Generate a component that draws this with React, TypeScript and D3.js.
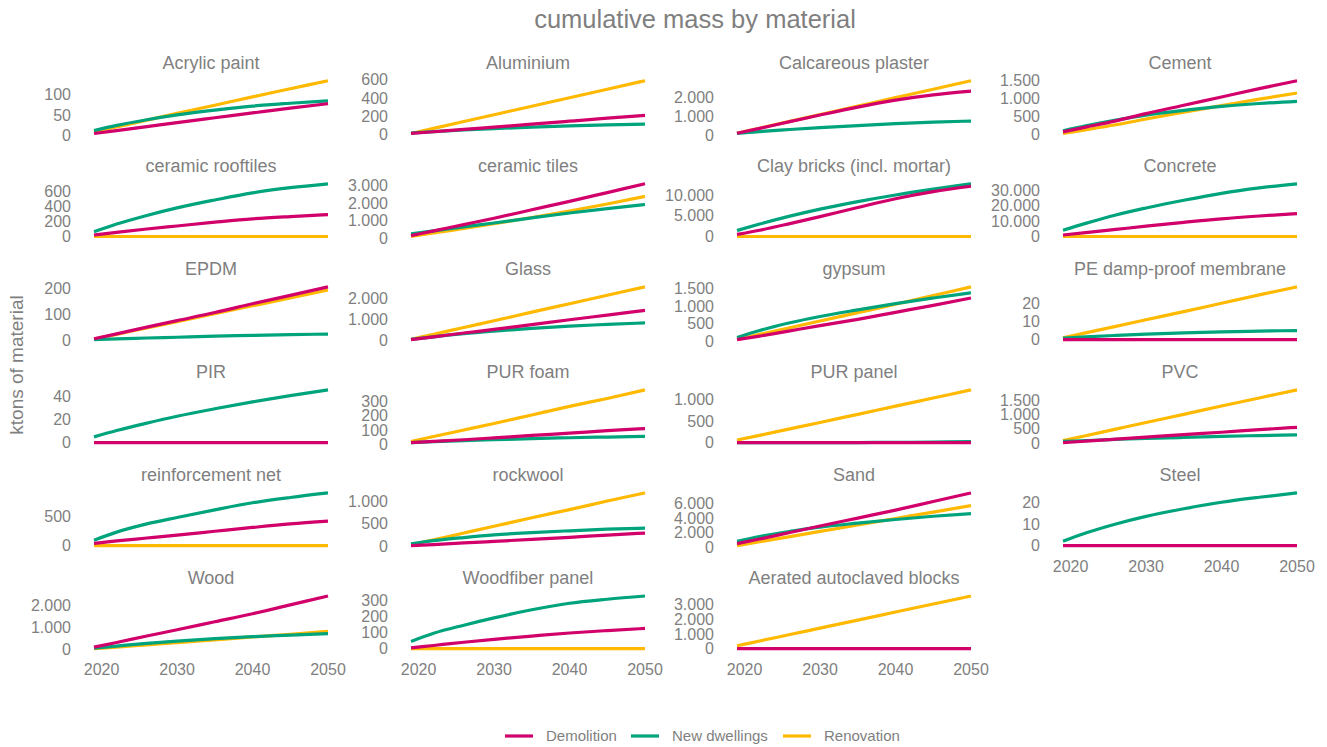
import React from "react";
import * as d3 from "d3";

// Years sampled for every series
const years = [2019, 2022, 2026, 2030, 2035, 2040, 2045, 2050];

const seriesNames = ["Demolition", "New dwellings", "Renovation"];
const seriesColors = ["#d1006b", "#00a47c", "#ffb900"];

const materials = [
  "Acrylic paint", "Aluminium", "Calcareous plaster", "Cement",
  "ceramic rooftiles", "ceramic tiles", "Clay bricks (incl. mortar)", "Concrete",
  "EPDM", "Glass", "gypsum", "PE damp-proof membrane",
  "PIR", "PUR foam", "PUR panel", "PVC",
  "reinforcement net", "rockwool", "Sand", "Steel",
  "Wood", "Woodfiber panel", "Aerated autoclaved blocks",
];

// Cumulative mass (ktons) per material, one entry per year above; null = no series
const demolition: (number[] | null)[] = [
  [4, 11, 21, 31, 43, 55, 67, 78],
  [10, 29, 55, 80, 112, 145, 178, 210],
  [90, 350, 710, 1060, 1480, 1850, 2130, 2330],
  [65, 195, 370, 570, 800, 1030, 1260, 1480],
  [20, 55, 100, 140, 190, 235, 265, 290],
  [150, 420, 780, 1140, 1620, 2100, 2600, 3100],
  [500, 1500, 3100, 4800, 7000, 9100, 10800, 12100],
  [1000, 2500, 4600, 6700, 9200, 11500, 13300, 14800],
  [5, 24, 50, 75, 106, 140, 172, 205],
  [40, 170, 350, 520, 750, 980, 1200, 1420],
  [40, 140, 290, 440, 620, 820, 1020, 1230],
  [0, 0, 0, 0, 0, 0, 0, 0],
  [0, 0, 0, 0, 0, 0, 0, 0],
  [12, 20, 32, 45, 62, 78, 95, 110],
  [0, 0, 0, 0, 0, 0, 0, 0],
  [20, 70, 140, 210, 300, 380, 470, 550],
  [38, 80, 130, 180, 245, 310, 370, 417],
  [10, 35, 70, 105, 150, 195, 245, 290],
  [460, 1100, 2000, 2900, 4000, 5100, 6300, 7480],
  [0, 0, 0, 0, 0, 0, 0, 0],
  [120, 330, 620, 900, 1260, 1620, 2020, 2420],
  [5, 20, 40, 58, 78, 97, 112, 125],
  [0, 0, 0, 0, 0, 0, 0, 0],
];

const newDwellings: (number[] | null)[] = [
  [11, 24, 38, 50, 62, 72, 79, 85],
  [15, 30, 48, 63, 80, 94, 105, 113],
  [80, 180, 290, 390, 500, 600, 680, 740],
  [95, 230, 390, 530, 660, 770, 850, 910],
  [62, 165, 280, 380, 485, 580, 648, 700],
  [250, 420, 650, 870, 1160, 1440, 1690, 1920],
  [1450, 3000, 4900, 6600, 8400, 10000, 11400, 12700],
  [4000, 8500, 14000, 18500, 23500, 28000, 31500, 34200],
  [2, 5, 8, 11, 15, 18, 21, 23],
  [50, 170, 320, 440, 570, 680, 760, 830],
  [100, 300, 520, 700, 890, 1070, 1230, 1380],
  [0.8, 1.5, 2.3, 3.0, 3.7, 4.3, 4.7, 5.0],
  [5, 10.5, 17, 23, 29.5, 35.5, 41, 46],
  [12, 18, 26, 32, 40, 46, 51, 55],
  [0, 0, 0, 0, 2, 6, 14, 25],
  [60, 90, 130, 165, 200, 235, 265, 290],
  [93, 230, 370, 480, 610, 730, 820, 897],
  [50, 120, 190, 250, 300, 340, 375, 400],
  [790, 1450, 2150, 2750, 3300, 3800, 4250, 4620],
  [2, 5.8, 10, 13.5, 17, 20, 22.3, 24.3],
  [80, 170, 290, 390, 500, 590, 660, 730],
  [45, 95, 145, 190, 240, 280, 305, 325],
  null,
];

const renovation: (number[] | null)[] = [
  [8, 20, 37, 54, 74, 95, 115, 135],
  [10, 66, 141, 216, 310, 403, 497, 590],
  [90, 360, 720, 1080, 1530, 1980, 2430, 2880],
  [20, 120, 260, 420, 610, 790, 970, 1140],
  [0, 0, 0, 0, 0, 0, 0, 0],
  [100, 300, 560, 830, 1180, 1550, 1950, 2380],
  [0, 0, 0, 0, 0, 0, 0, 0],
  [0, 0, 0, 0, 0, 0, 0, 0],
  [4, 22, 47, 71, 102, 132, 162, 193],
  [50, 290, 610, 930, 1340, 1740, 2140, 2540],
  [40, 190, 380, 570, 810, 1050, 1300, 1550],
  [1, 3.7, 7.3, 11, 15.5, 20.2, 24.8, 29.3],
  null,
  [20, 55, 100, 145, 205, 265, 320, 380],
  [60, 170, 320, 470, 660, 850, 1040, 1230],
  [90, 260, 490, 720, 1000, 1290, 1570, 1850],
  [0, 0, 0, 0, 0, 0, 0, 0],
  [30, 140, 290, 440, 630, 810, 1000, 1180],
  [180, 720, 1430, 2150, 3050, 3940, 4830, 5730],
  null,
  [50, 125, 225, 325, 450, 580, 700, 830],
  [0, 0, 0, 0, 0, 0, 0, 0],
  [200, 530, 970, 1410, 1960, 2510, 3060, 3610],
];

// Y tick values shown on each panel
const yTicks: number[][] = [
  [0, 50, 100], [0, 200, 400, 600], [0, 1000, 2000], [0, 500, 1000, 1500],
  [0, 200, 400, 600], [0, 1000, 2000, 3000], [0, 5000, 10000], [0, 10000, 20000, 30000],
  [0, 100, 200], [0, 1000, 2000], [0, 500, 1000, 1500], [0, 10, 20],
  [0, 20, 40], [0, 100, 200, 300], [0, 500, 1000], [0, 500, 1000, 1500],
  [0, 500], [0, 500, 1000], [0, 2000, 4000, 6000], [0, 10, 20],
  [0, 1000, 2000], [0, 100, 200, 300], [0, 1000, 2000, 3000],
];

const xTicks = [2020, 2030, 2040, 2050];

// Layout
const W = 1327;
const H = 747;
const colX = [94, 411, 737, 1063];
const panelW = 234;
const firstBottom = 136.1;
const rowStep = 103.05;
const panelH = 58;
const textColor = "#7f7f7f";
const font = "'Liberation Sans', Arial, sans-serif";

const fmt = d3.formatLocale({ decimal: ",", thousands: ".", grouping: [3], currency: ["", ""] }).format(",");

const seriesData = [renovation, newDwellings, demolition]; // drawing order: last on top
const seriesDrawColors = [seriesColors[2], seriesColors[1], seriesColors[0]];

function Panel({ index }: { index: number }) {
  const col = index % 4;
  const row = Math.floor(index / 4);
  const x0 = colX[col];
  const bottom = firstBottom + row * rowStep;
  const x = d3.scaleLinear().domain([2019, 2050]).range([x0, x0 + panelW]);

  const all: number[] = [];
  seriesData.forEach((s) => {
    const v = s[index];
    if (v) all.push(...v);
  });
  const [mn, mx] = d3.extent(all) as [number, number];
  const span = mx - mn || 1;
  const y = d3
    .scaleLinear()
    .domain([mn - 0.05 * span, mx + 0.05 * span])
    .range([bottom, bottom - panelH]);

  const line = d3
    .line<number>()
    .x((_, i) => x(years[i]))
    .y((d) => y(d))
    .curve(d3.curveMonotoneX);

  const showX = index >= 19;
  const top = bottom - panelH;

  return (
    <g>
      <text
        x={x0 + panelW / 2}
        y={top - 9}
        textAnchor="middle"
        fontSize={18}
        fill={textColor}
      >
        {materials[index]}
      </text>
      {yTicks[index].map((t) => (
        <text key={t} x={x0 - 23} y={y(t)} dy="0.35em" textAnchor="end" fontSize={16} fill={textColor}>
          {fmt(t)}
        </text>
      ))}
      {showX &&
        xTicks.map((t) => (
          <text key={t} x={x(t)} y={bottom + 23.5} textAnchor="middle" fontSize={16} fill={textColor}>
            {t}
          </text>
        ))}
      {seriesData.map((s, k) => {
        const v = s[index];
        if (!v) return null;
        return (
          <path
            key={k}
            d={line(v) || ""}
            fill="none"
            stroke={seriesDrawColors[k]}
            strokeWidth={3.2}
            strokeLinejoin="round"
          />
        );
      })}
    </g>
  );
}

const legendX = [505, 631, 783];

export default function App() {
  return (
    <svg
      width={W}
      height={H}
      style={{ position: "absolute", left: 0, top: 0, background: "#fff" }}
      fontFamily={font}
    >
      <text x={695} y={28} textAnchor="middle" fontSize={25.5} fill={textColor}>
        cumulative mass by material
      </text>
      <text
        transform={`translate(23,365) rotate(-90)`}
        textAnchor="middle"
        fontSize={19}
        fill={textColor}
      >
        ktons of material
      </text>
      {materials.map((_, i) => (
        <Panel key={i} index={i} />
      ))}
      {seriesNames.map((name, i) => (
        <g key={name} transform={`translate(${legendX[i]},736)`}>
          <line x1={0} x2={28} y1={0} y2={0} stroke={seriesColors[i]} strokeWidth={3.2} />
          <text x={41} y={0} dy="0.35em" fontSize={15} fill={textColor}>
            {name}
          </text>
        </g>
      ))}
    </svg>
  );
}
